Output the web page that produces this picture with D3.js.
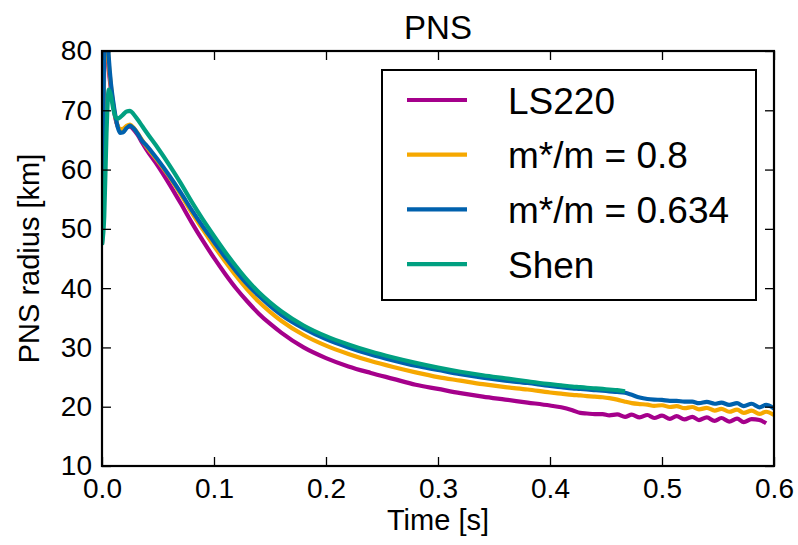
<!DOCTYPE html>
<html>
<head>
    <meta charset="utf-8">
    <title>PNS</title>
    <script src="https://d3js.org/d3.v7.min.js"></script>
    <style>
        body { margin: 0; background: #fff; }
        text { font-family: "Liberation Sans", Arial, Helvetica, sans-serif; fill: #000; }
    </style>
</head>
<body>
    <div id="chart"></div>

    <script>
        // time grid [s] shared by all runs
        const time = [
            0, 0.002, 0.004, 0.006, 0.008, 0.010, 0.012, 0.014, 0.016, 0.019, 0.022, 0.025, 0.028, 0.032, 0.036,
            0.04, 0.05, 0.06, 0.07, 0.08, 0.09, 0.10, 0.11, 0.12, 0.13, 0.14, 0.15, 0.16, 0.18, 0.20,
            0.22, 0.24, 0.26, 0.28, 0.30, 0.32, 0.34, 0.36, 0.38, 0.40, 0.41, 0.42,
            0.427, 0.433, 0.440, 0.447, 0.453, 0.460, 0.467, 0.473, 0.480, 0.487, 0.493, 0.500, 0.507, 0.513,
            0.520, 0.527, 0.533, 0.540, 0.547, 0.553, 0.560, 0.567, 0.573, 0.580, 0.587, 0.593, 0.600
        ];

        // PNS radius [km]
        const ls220 = [
            47.5, 79, 83, 77, 73.5, 70.8, 68.6, 67.3, 66.7, 66.8, 67.2, 67.3, 66.8, 65.8, 64.5,
            63.3, 60.6, 57.6, 54.4, 51.1, 48.0, 45.1, 42.4, 39.9, 37.7, 35.7, 34.0, 32.5, 30.0, 28.2,
            26.8, 25.7, 24.7, 23.7, 23.0, 22.3, 21.7, 21.2, 20.7, 20.2, 19.9, 19.4,
            18.95, 18.85, 18.75, 18.75, 18.55, 18.7, 18.3, 18.65, 18.2, 18.6, 18.1, 18.5, 17.95, 18.4,
            17.85, 18.3, 17.75, 18.2, 17.6, 18.1, 17.5, 18.0, 17.4, 17.9, 17.75, 17.2, null
        ];
        const mstar08 = [
            47.5, 80, 84, 78, 74, 71, 68.8, 67.4, 66.8, 66.9, 67.4, 67.6, 67.1, 66.1, 64.9,
            63.8, 61.4, 58.8, 55.9, 52.8, 49.9, 47.1, 44.5, 42.0, 39.7, 37.7, 36.0, 34.5, 32.1, 30.3,
            28.9, 27.7, 26.7, 25.8, 25.0, 24.4, 23.8, 23.3, 22.9, 22.4, 22.2, 22.0,
            21.9, 21.8, 21.7, 21.6, 21.45, 21.2, 20.85, 20.6, 20.45, 20.35, 20.15, 20.25, 19.95, 20.1,
            19.75, 19.95, 19.55, 19.8, 19.35, 19.65, 19.15, 19.5, 18.95, 19.35, 18.8, 19.15, 18.6
        ];
        const mstar0634 = [
            47.5, 82, 86, 79, 74.5, 71.5, 69, 67.2, 66.2, 66.3, 67.0, 67.4, 67.0, 66.0, 64.8,
            64.0, 61.6, 59.0, 56.2, 53.2, 50.4, 47.8, 45.2, 42.8, 40.6, 38.7, 37.0, 35.5, 33.2, 31.4,
            30.0, 28.8, 27.8, 26.9, 26.2, 25.5, 24.9, 24.4, 24.0, 23.5, 23.3, 23.1,
            23.0, 22.9, 22.8, 22.7, 22.6, 22.5, 22.35, 22.0, 21.55, 21.3, 21.2, 21.15, 21.0, 21.0,
            20.85, 20.85, 20.6, 20.8, 20.5, 20.7, 20.3, 20.6, 20.1, 20.5, 19.9, 20.3, 19.7
        ];
        const shen = [
            47.3, 52, 66, 73.5, 72.5, 70.3, 68.9, 68.6, 68.8, 69.3, 69.8, 69.9, 69.4, 68.4, 67.3,
            66.2, 63.6, 60.8, 57.8, 54.6, 51.6, 48.8, 46.1, 43.6, 41.3, 39.3, 37.6, 36.1, 33.7, 31.9,
            30.5, 29.3, 28.3, 27.4, 26.6, 25.9, 25.3, 24.8, 24.3, 23.8, 23.6, 23.4,
            23.3, 23.2, 23.1, 23.0, 22.9, 22.8, 22.6, null, null, null, null, null, null, null,
            null, null, null, null, null, null, null, null, null, null, null, null, null
        ];

        const seriesNames = ["LS220", "m*/m = 0.8", "m*/m = 0.634", "Shen"];
        const seriesValues = [ls220, mstar08, mstar0634, shen];
        const colors = ["#a5008b", "#f6a800", "#0061ad", "#00a081"];

        const xTicks = [0, 0.1, 0.2, 0.3, 0.4, 0.5, 0.6];
        const yTicks = [10, 20, 30, 40, 50, 60, 70, 80];

        // layout
        const margin = {top: 51, right: 24, bottom: 79, left: 102};
        const width = 798 - margin.left - margin.right;
        const height = 545 - margin.top - margin.bottom;

        const svg = d3.select("#chart")
            .append("svg")
            .attr("width", 798)
            .attr("height", 545);

        svg.append("rect")
            .attr("width", 798)
            .attr("height", 545)
            .attr("fill", "#fff");

        const g = svg.append("g")
            .attr("transform", `translate(${margin.left},${margin.top})`);

        const x = d3.scaleLinear().domain([0, 0.6]).range([0, width]);
        const y = d3.scaleLinear().domain([10, 80]).range([height, 0]);

        // clip for the lines
        svg.append("defs").append("clipPath")
            .attr("id", "plot-clip")
            .append("rect")
            .attr("width", width)
            .attr("height", height);

        const line = d3.line()
            .defined(d => d.r != null)
            .x(d => x(d.t))
            .y(d => y(d.r))
            .curve(d3.curveMonotoneX);

        const lines = g.append("g").attr("clip-path", "url(#plot-clip)");

        seriesValues.forEach((vals, i) => {
            const pts = time.map((t, j) => ({t: t, r: vals[j]}));
            lines.append("path")
                .datum(pts)
                .attr("fill", "none")
                .attr("stroke", colors[i])
                .attr("stroke-width", 4.2)
                .attr("stroke-linejoin", "round")
                .attr("d", line);
        });

        // axes, ticks pointing inward
        const tickLen = 9;
        const styleAxis = sel => {
            sel.select(".domain").remove();
            sel.selectAll(".tick line").attr("stroke", "#000").attr("stroke-width", 1.3);
            sel.selectAll(".tick text").style("font-size", "28px");
        };

        g.append("g")
            .attr("transform", `translate(0,${height})`)
            .call(d3.axisBottom(x).tickValues(xTicks).tickFormat(d3.format(".1f"))
                .tickSizeInner(-tickLen).tickSizeOuter(0).tickPadding(12))
            .call(styleAxis);

        g.append("g")
            .call(d3.axisTop(x).tickValues(xTicks).tickFormat("")
                .tickSizeInner(-tickLen).tickSizeOuter(0))
            .call(styleAxis);

        g.append("g")
            .call(d3.axisLeft(y).tickValues(yTicks).tickFormat(d3.format("d"))
                .tickSizeInner(-tickLen).tickSizeOuter(0).tickPadding(10))
            .call(styleAxis);

        g.append("g")
            .attr("transform", `translate(${width},0)`)
            .call(d3.axisRight(y).tickValues(yTicks).tickFormat("")
                .tickSizeInner(-tickLen).tickSizeOuter(0))
            .call(styleAxis);

        // frame
        g.append("rect")
            .attr("width", width)
            .attr("height", height)
            .attr("fill", "none")
            .attr("stroke", "#000")
            .attr("stroke-width", 2.2);

        // labels
        g.append("text")
            .attr("x", width / 2)
            .attr("y", height + 64)
            .attr("text-anchor", "middle")
            .style("font-size", "29px")
            .text("Time [s]");

        g.append("text")
            .attr("transform", "rotate(-90)")
            .attr("x", -height / 2)
            .attr("y", -63)
            .attr("text-anchor", "middle")
            .style("font-size", "29px")
            .text("PNS radius [km]");

        g.append("text")
            .attr("x", width / 2)
            .attr("y", -12)
            .attr("text-anchor", "middle")
            .style("font-size", "33px")
            .text("PNS");

        // legend
        const legend = g.append("g")
            .attr("transform", `translate(${width - 392},19)`);

        legend.append("rect")
            .attr("width", 374)
            .attr("height", 230)
            .attr("fill", "#fff")
            .attr("stroke", "#000")
            .attr("stroke-width", 2);

        seriesNames.forEach((name, i) => {
            const row = legend.append("g")
                .attr("transform", `translate(0,${30 + i * 54.7})`);

            row.append("line")
                .attr("x1", 25)
                .attr("x2", 85)
                .attr("stroke", colors[i])
                .attr("stroke-width", 4.2);

            row.append("text")
                .attr("x", 126)
                .attr("y", 13.5)
                .style("font-size", "37px")
                .text(name);
        });
    </script>
</body>
</html>
